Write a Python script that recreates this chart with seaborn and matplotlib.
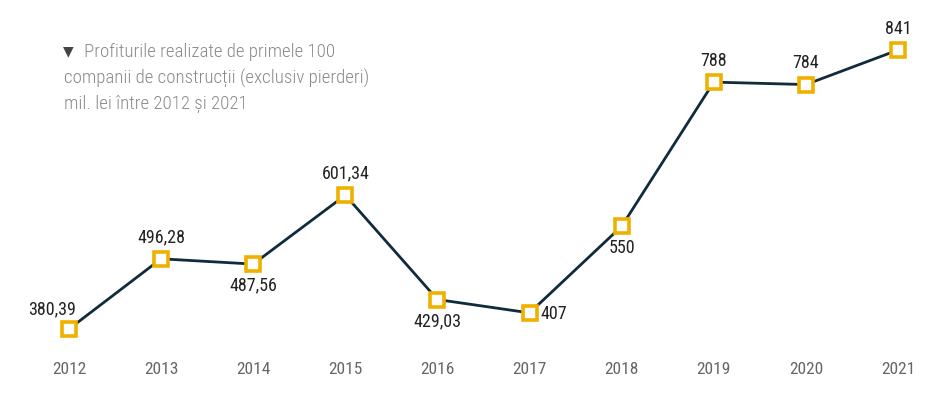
import matplotlib
matplotlib.use("Agg")
import matplotlib.pyplot as plt
import seaborn as sns
import pandas as pd

# Chart data
years = [2012, 2013, 2014, 2015, 2016, 2017, 2018, 2019, 2020, 2021]
profits = [380.39, 496.28, 487.56, 601.34, 429.03, 407, 550, 788, 784, 841]
value_labels = ["380,39", "496,28", "487,56", "601,34", "429,03",
                "407", "550", "788", "784", "841"]
# where each value label sits relative to its point
label_pos = ["left", "above", "below", "above", "below",
             "right", "below", "above", "above", "above"]

title_lines = ["Profiturile realizate de primele 100",
               "companii de construcții (exclusiv pierderi)",
               "mil. lei între 2012 și 2021"]

sns.set_style("white")
plt.rcParams['font.family'] = ['Roboto Condensed', 'Liberation Sans', 'DejaVu Sans']

df = pd.DataFrame({"year": years, "profit": profits})

fig = plt.figure(figsize=(9.4, 3.93), dpi=100)
ax = fig.add_axes([0, 1 - 350 / 393, 1, 350 / 393])

sns.lineplot(data=df, x="year", y="profit", ax=ax, color="#0f2b3c",
             linewidth=2, marker="s", markersize=10,
             markerfacecolor="white", markeredgecolor="#f0b000",
             markeredgewidth=2.6, zorder=3)

ax.set_xlim(2011.251, 2021.456)
ax.set_ylim(345.7, 923.6)
ax.set_xticks(years)
ax.set_xticklabels([str(y) for y in years])
ax.tick_params(axis="x", length=0, pad=9, labelsize=12.5, labelcolor="#666666")
ax.set_yticks([])
ax.set_xlabel("")
ax.set_ylabel("")
for s in ax.spines.values():
    s.set_visible(False)

offsets = {"left": (-12, 8, "center", "bottom"),
           "above": (0, 9, "center", "bottom"),
           "below": (0, -9, "center", "top"),
           "right": (8, -1, "left", "center")}
for x, y, lab, pos in zip(years, profits, value_labels, label_pos):
    dx, dy, ha, va = offsets[pos]
    ax.annotate(lab, (x, y), xytext=(dx, dy), textcoords="offset points",
                ha=ha, va=va, fontsize=13, color="#222222")

# title block
fig.text(63 / 940, 1 - 51 / 393, "▼", fontsize=10, color="#444444",
         family=['DejaVu Sans'], va="center", ha="left")
title_y = [52, 78, 104]
title_x = [84, 64, 64]
for line, tx, ty in zip(title_lines, title_x, title_y):
    fig.text(tx / 940, 1 - ty / 393, line, fontsize=13.6, fontweight="light",
             color="#8a8a8a", va="center", ha="left")

fig.savefig("out.png", dpi=100, facecolor="white")
